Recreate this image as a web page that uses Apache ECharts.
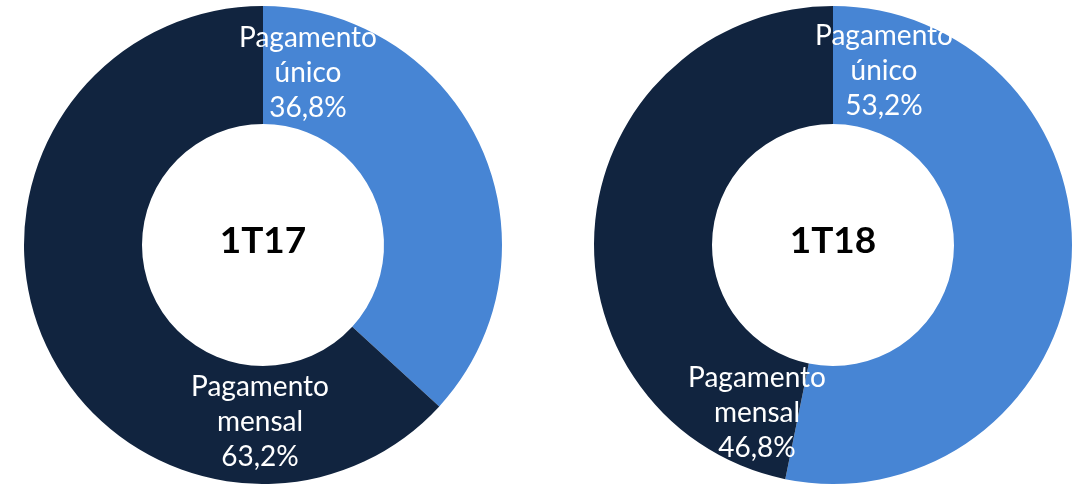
<!DOCTYPE html>
<html>
<head>
<meta charset="utf-8">
<script src="https://cdn.jsdelivr.net/npm/echarts@6/dist/echarts.min.js"></script>
<style>
  html, body { margin: 0; padding: 0; background: #fff; }
  #chart { width: 1081px; height: 484px; }
</style>
</head>
<body>
<div id="chart"></div>
<script>
// dados
var categories = ['Pagamento\núnico', 'Pagamento\nmensal']
var periods = ['1T17', '1T18']
var values1T17 = [36.8, 63.2]
var values1T18 = [53.2, 46.8]

var colors = ['#4785D4', '#11243F']
var centers = [[263, 245], [833, 245]]
// posições dos rótulos (centro do bloco de texto)
var labelPos = [
    [[308, 73], [260, 422]],
    [[884, 71], [757, 413]],
]

var chart = echarts.init(document.getElementById('chart'))

function makeSeries(idx, values) {
    return {
        type: 'pie',
        name: periods[idx],
        center: centers[idx],
        radius: [121, 239],
        startAngle: 90,
        clockwise: true,
        silent: true,
        itemStyle: { borderWidth: 0 },
        label: {
            show: true,
            position: 'inside',
            color: '#fff',
            fontFamily: 'Lato',
            fontSize: 28,
            lineHeight: 35,
            align: 'center',
            formatter: function(p) {
                return p.name + '\n' + p.value.toFixed(1).replace('.', ',') + '%'
            },
        },
        labelLine: { show: false },
        labelLayout: function(p) {
            var pos = labelPos[idx][p.dataIndex]
            return { x: pos[0], y: pos[1], align: 'center', verticalAlign: 'middle' }
        },
        data: categories.map(function(c, i) {
            return { name: c, value: values[i], itemStyle: { color: colors[i] } }
        }),
    }
}

var option = {
    animation: false,
    graphic: periods.map(function(t, i) {
        return {
            type: 'text',
            x: centers[i][0],
            y: 241,
            style: {
                text: t,
                fill: '#000',
                font: 'bold 37px Lato',
                textAlign: 'center',
                textVerticalAlign: 'middle',
            },
        }
    }),
    series: [makeSeries(0, values1T17), makeSeries(1, values1T18)],
}
option && chart.setOption(option)
</script>
</body>
</html>
